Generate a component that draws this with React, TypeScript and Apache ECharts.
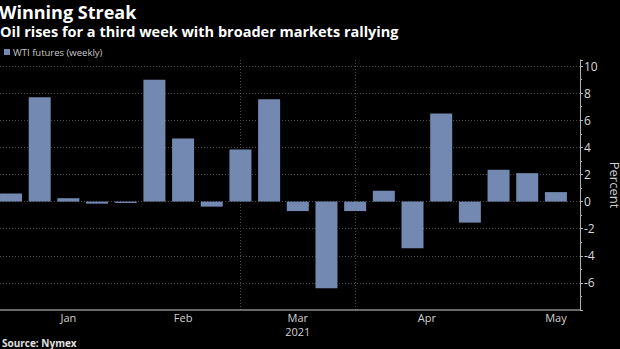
import React, { useEffect, useRef } from "react";
import * as echarts from "echarts";

// Weekly closes (week ending)
const weeks = [
  "2020-12-31", "2021-01-08", "2021-01-15", "2021-01-22", "2021-01-29",
  "2021-02-05", "2021-02-12", "2021-02-19", "2021-02-26",
  "2021-03-05", "2021-03-12", "2021-03-19", "2021-03-26",
  "2021-04-01", "2021-04-09", "2021-04-16", "2021-04-23", "2021-04-30",
  "2021-05-07", "2021-05-14",
];
// WTI futures weekly change, percent
const wtiWeekly = [
  0.6, 7.7, 0.25, -0.15, -0.1,
  9.0, 4.65, -0.37, 3.85,
  7.55, -0.7, -6.4, -0.7,
  0.8, -3.45, 6.5, -1.55, 2.35,
  2.1, 0.7,
];
// Last week of each month, used as month separators
const monthEndWeeks = ["2020-12-31", "2021-01-29", "2021-02-26", "2021-03-26", "2021-04-30", "2021-05-28"];
const monthLabels = ["Jan", "Feb", "Mar", "Apr", "May"];
const yearLabel = "2021";
const yTicks = [-6, -4, -2, 0, 2, 4, 6, 8, 10];

const DAY = 86400000;
const t0 = Date.parse(weeks[0]);
const weekIndex = (d: string) => Math.round((Date.parse(d) - t0) / DAY / 7);

export default function App() {
  const ref = useRef<HTMLDivElement>(null);
  useEffect(() => {
    if (!ref.current) return;
    const chart = echarts.init(ref.current, null, { renderer: "svg" });
    const ends = monthEndWeeks.map(weekIndex);
    const sepValues = ends.slice(1, ends.length - 1);
    const labelPos = monthLabels.map((_, i) => (ends[i] + ends[i + 1]) / 2);
    const labelMap: Record<string, string> = {};
    labelPos.forEach((p, i) => {
      labelMap[String(p)] = monthLabels[i] + (monthLabels[i] === "Mar" ? "\n" + yearLabel : "");
    });
    const font = "'Open Sans', 'DejaVu Sans', sans-serif";
    chart.setOption({
      animation: false,
      backgroundColor: "#000000",
      title: [
        {
          text: "Winning Streak",
          left: -1,
          top: 2,
          padding: 0,
          textStyle: { color: "#ffffff", fontSize: 18, fontWeight: 700, fontFamily: font, lineHeight: 20 },
        },
        {
          text: "Oil rises for a third week with broader markets rallying",
          left: 0,
          top: 24,
          padding: 0,
          textStyle: { color: "#ffffff", fontSize: 14.5, fontWeight: 700, fontFamily: font, lineHeight: 15 },
        },
        {
          text: "Source: Nymex",
          left: 2,
          top: 337,
          padding: 0,
          textStyle: { color: "#e0e0e0", fontSize: 10, fontWeight: 700, fontFamily: font, lineHeight: 12 },
        },
      ],
      legend: {
        left: 4,
        top: 46,
        padding: 0,
        icon: "rect",
        itemWidth: 6,
        itemHeight: 6,
        itemGap: 4,
        textStyle: { color: "#c8c8c8", fontSize: 9.5, fontFamily: font, padding: [0, 0, 0, -2], lineHeight: 12 },
        data: ["WTI futures (weekly)"],
      },
      grid: { left: 0, right: 40, top: 60, bottom: 39, containLabel: false, outerBoundsMode: "none" },
      xAxis: {
        type: "value",
        min: -0.384,
        max: 19.84,
        axisLine: { show: true, onZero: false, lineStyle: { color: "#8c8c8c", width: 1.5 } },
        axisTick: { show: false, customValues: sepValues },
        splitLine: { show: true, showMinLine: false, showMaxLine: false, lineStyle: { color: "#4a4a4a", type: [1, 2], width: 1 } },
        axisLabel: {
          customValues: labelPos,
          formatter: (v: number) => labelMap[String(v)] || "",
          color: "#d0d0d0",
          fontSize: 11,
          fontFamily: font,
          lineHeight: 14,
          margin: 0,
        },
      },
      yAxis: {
        type: "value",
        position: "right",
        min: -8,
        max: 10.45,
        interval: 2,
        name: "Percent",
        nameLocation: "middle",
        nameRotate: -90,
        nameGap: 24,
        nameTextStyle: { color: "#d0d0d0", fontSize: 13, fontFamily: font },
        axisLine: { show: true, onZero: false, lineStyle: { color: "#b0b0b0", width: 1 } },
        axisTick: { show: true, length: 3, lineStyle: { color: "#b0b0b0" } },
        minorTick: { show: true, splitNumber: 2, length: 2, lineStyle: { color: "#b0b0b0" } },
        splitLine: { show: true, showMinLine: false, showMaxLine: false, lineStyle: { color: "#4a4a4a", type: [1, 2], width: 1 } },
        axisLabel: {
          color: "#d8d8d8",
          fontSize: 12,
          fontFamily: font,
          margin: 4,
          showMinLabel: false,
          showMaxLabel: false,
          formatter: (v: number) => (yTicks.includes(v) ? String(v) : ""),
        },
      },
      series: [
        {
          name: "WTI futures (weekly)",
          type: "bar",
          barWidth: 22,
          itemStyle: { color: "#7389b1" },
          data: wtiWeekly.map((v, i) => [weekIndex(weeks[i]), v]),
        },
      ],
    });
    return () => chart.dispose();
  }, []);
  return (
    <div
      ref={ref}
      style={{ position: "fixed", left: 0, top: 0, width: 620, height: 349, background: "#000" }}
    />
  );
}
